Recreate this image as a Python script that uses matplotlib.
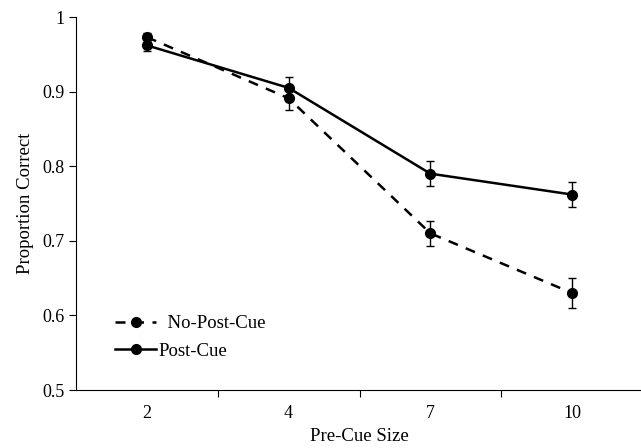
import matplotlib
matplotlib.use("Agg")
import matplotlib.pyplot as plt
from matplotlib.lines import Line2D
from matplotlib.ticker import FixedLocator, FuncFormatter

plt.rcParams['font.family'] = ['Liberation Serif', 'DejaVu Serif']

# data
pre_cue_sizes = ['2', '4', '7', '10']
no_post_cue = [0.973, 0.891, 0.710, 0.630]
no_post_cue_err = [0.006, 0.016, 0.017, 0.020]
post_cue = [0.962, 0.905, 0.790, 0.762]
post_cue_err = [0.008, 0.015, 0.017, 0.017]

dash = (0, (4, 3.4))
lw = 1.8

fig = plt.figure(figsize=(6.41, 4.48), dpi=100)
ax = fig.add_axes([76 / 641, 58 / 448, 567 / 641, 373 / 448])

xs = list(range(len(pre_cue_sizes)))

ax.errorbar(xs, no_post_cue, yerr=no_post_cue_err, color='black', ls=dash,
            lw=lw, marker='o', ms=7, capsize=2.7, elinewidth=1, capthick=1)
ax.errorbar(xs, post_cue, yerr=post_cue_err, color='black', ls='-',
            lw=lw, marker='o', ms=7, capsize=2.7, elinewidth=1, capthick=1)

ax.set_xlim(-0.5, 3.5)
ax.set_ylim(0.5, 1.0)

ax.set_xticks(xs)
ax.set_xticklabels(pre_cue_sizes)
ax.xaxis.set_minor_locator(FixedLocator([0.5, 1.5, 2.5]))
ax.tick_params(axis='x', which='major', length=0, pad=11, labelsize=13)
ax.tick_params(axis='x', which='minor', length=5, direction='out', width=0.8)

ax.set_yticks([0.5, 0.6, 0.7, 0.8, 0.9, 1.0])
ax.yaxis.set_major_formatter(FuncFormatter(lambda v, p: '1' if v == 1.0 else f'{v:.1f}'))
ax.tick_params(axis='y', length=5, direction='out', width=0.8, labelsize=13)

for s in ['top', 'right']:
    ax.spines[s].set_visible(False)
for s in ['left', 'bottom']:
    ax.spines[s].set_linewidth(0.8)

ax.set_xlabel('Pre-Cue Size', fontsize=13.5, labelpad=4)
ax.set_ylabel('Proportion Correct', fontsize=13.5, labelpad=6)

handles = [
    Line2D([], [], color='black', ls=dash, lw=lw, marker='o', ms=7),
    Line2D([], [], color='black', ls='-', lw=lw, marker='o', ms=7),
]
labels = ['  No-Post-Cue', 'Post-Cue']
ax.legend(handles, labels, loc='upper left', bbox_to_anchor=(115 / 641, 1 - 315 / 448),
          bbox_transform=fig.transFigure, frameon=False, fontsize=13.5,
          handlelength=2.2, handletextpad=0.1, labelspacing=0.55,
          borderpad=0, borderaxespad=0)

fig.savefig('out.png', dpi=100)
